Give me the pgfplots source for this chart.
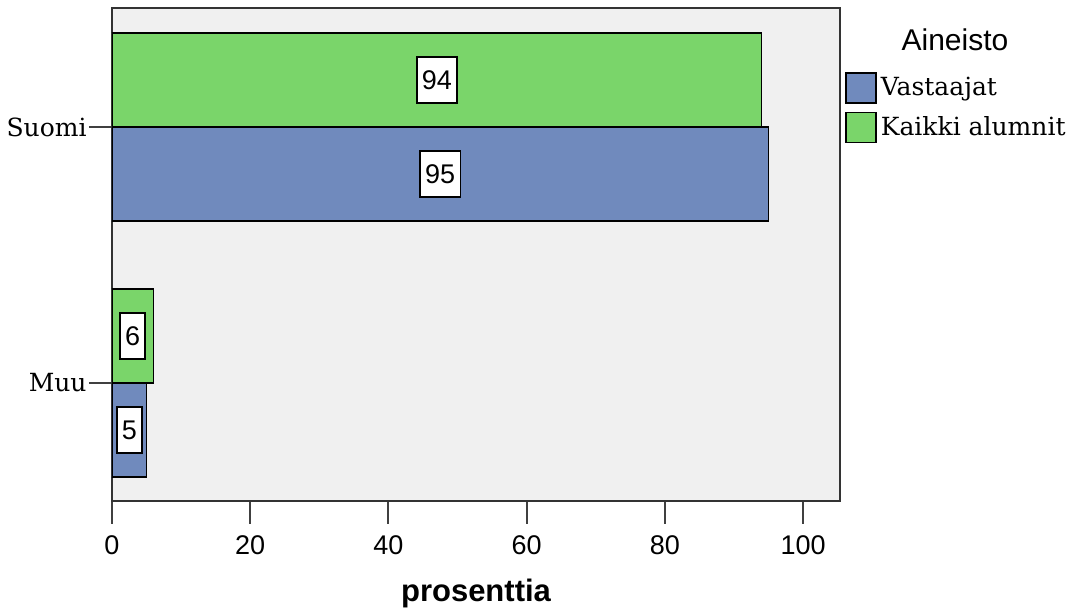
\documentclass[border=0pt]{standalone}
\usepackage{fontspec}
\setmainfont{Liberation Sans}
\newfontfamily\serifL{DejaVu Serif}
\usepackage{pgfplots}
\pgfplotsset{compat=1.18}
\definecolor{vblue}{RGB}{112,138,189}
\definecolor{kgreen}{RGB}{122,213,106}
\definecolor{bggray}{RGB}{240,240,240}
\pgfplotsset{myleg/.style={legend image code/.code={\draw[##1, line width=0.75pt] (0pt,-7.5pt) rectangle (15pt,7.5pt);}}}
\begin{document}
\begin{tikzpicture}
\useasboundingbox (0,0) rectangle (536.5pt,305pt);
\begin{axis}[
 at={(56pt,54.5pt)}, anchor=south west,
 scale only axis, width=364pt, height=246.5pt,
 xbar, bar width=47pt,
 xmin=0, xmax=105.35, ymin=-0.461, ymax=1.465,
 axis background/.style={fill=bggray},
 axis line style={draw=black!80, line width=1pt},
 xtick={0,20,...,100}, ytick={0,1}, yticklabels={Muu,Suomi},
 tick align=outside, major tick length=11.5pt,
 tick style={draw=black!75, line width=1pt},
 xtick pos=lower, ytick pos=left,
 /pgf/number format/assume math mode=true,
 xticklabel style={font=\fontsize{13.5}{16}\selectfont, yshift=-2.5pt},
 yticklabel style={font=\serifL\fontsize{12.5}{15}\selectfont, inner xsep=1pt},
 xlabel={prosenttia},
 xlabel style={font=\bfseries\fontsize{15.5}{18}\selectfont, at={(rel axis cs:0.5,0)}, anchor=center, yshift=-46pt},
 point meta=x,
 nodes near coords,
 visualization depends on=rawx \as \rawx,
 nodes near coords style={font=\fontsize{13.5}{16}\selectfont, fill=white, draw=black, line width=0.75pt, anchor=center, inner xsep=2.5pt, minimum height=23pt, xshift={-0.5*\rawx*3.4552pt}},
 legend style={draw=none, fill=none, at={(rel axis cs:1,1)}, anchor=north west, xshift=2.5pt, yshift=-32pt, inner sep=0pt, row sep=4pt, font=\serifL\fontsize{12.5}{15}\selectfont, nodes={inner xsep=2pt, inner ysep=0pt}},
 legend cell align=left,
]
\addplot[fill=vblue, draw=black, line width=0.75pt, bar shift=-23.5pt, myleg] coordinates {(95,1) (5,0)};
\addplot[fill=kgreen, draw=black, line width=0.75pt, bar shift=23.5pt, myleg] coordinates {(94,1) (6,0)};
\legend{Vastaajat, Kaikki alumnit}
\end{axis}
\node[font=\fontsize{15}{18}\selectfont] at (477.5pt,285pt) {Aineisto};
\end{tikzpicture}
\end{document}
